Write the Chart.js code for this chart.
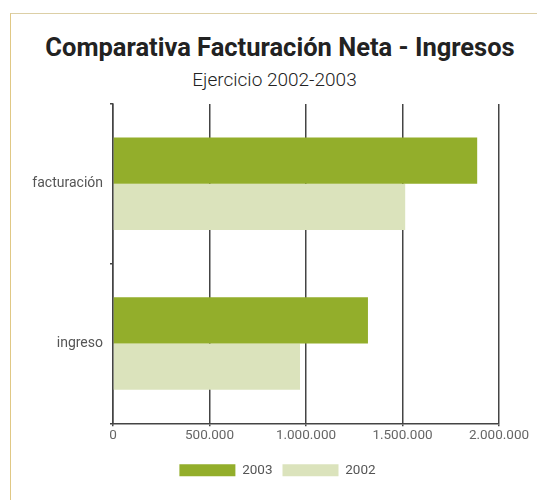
<!DOCTYPE html>
<html>
<head>
<meta charset="utf-8">
<script src="https://cdn.jsdelivr.net/npm/chart.js@4"></script>
<style>
  html, body { margin:0; padding:0; background:#fff; }
  #wrap { position:relative; width:537px; height:500px; overflow:hidden; }
  #frame { position:absolute; left:10px; top:13px; width:540px; height:500px;
           border-top:1.5px solid #dccfa6; border-left:1.5px solid #e0c885; }
  #title { position:absolute; left:20px; width:520px; top:32px; text-align:center;
           font-family:"Roboto", sans-serif; font-weight:bold; font-size:25.5px; color:#222; }
  #subtitle { position:absolute; left:10px; width:529px; top:68px; text-align:center;
           font-family:"Roboto", sans-serif; font-weight:300; font-size:19px; color:#222; }
  #cv { position:absolute; left:0; top:0; }
</style>
</head>
<body>
<div id="wrap">
  <div id="frame"></div>
  <div id="title">Comparativa Facturación Neta - Ingresos</div>
  <div id="subtitle">Ejercicio 2002-2003</div>
  <canvas id="cv" width="537" height="500"></canvas>
</div>
<script>
const categories = ["facturación", "ingreso"];
const seriesNames = ["2003", "2002"];
const values2003 = [1887000, 1321000];
const values2002 = [1514000, 969000];
const xTicks = [0, 500000, 1000000, 1500000, 2000000];

function fmt(v) {
  return String(v).replace(/\B(?=(\d{3})+(?!\d))/g, ".");
}

const legendShift = {
  id: "legendShift",
  afterLayout(chart) {
    if (chart.legend) { chart.legend.left += 28; chart.legend.right += 28; }
  }
};

new Chart(document.getElementById("cv"), {
  type: "bar",
  data: {
    labels: categories,
    datasets: [
      { label: seriesNames[0], data: values2003, backgroundColor: "#93ae2b", borderWidth: 0 },
      { label: seriesNames[1], data: values2002, backgroundColor: "#dbe3bc", borderWidth: 0 }
    ]
  },
  plugins: [legendShift],
  options: {
    indexAxis: "y",
    responsive: false,
    animation: false,
    layout: { padding: { top: 104, right: 38, bottom: 13, left: 0 } },
    datasets: { bar: { barPercentage: 1.0, categoryPercentage: 0.58 } },
    plugins: {
      legend: {
        position: "bottom",
        labels: {
          boxWidth: 56, boxHeight: 12, padding: 10,
          color: "#555",
          font: { family: "Roboto", size: 13.5 }
        }
      },
      tooltip: { enabled: false }
    },
    scales: {
      x: {
        type: "linear",
        min: 0, max: 2000000,
        afterBuildTicks: (s) => { s.ticks = xTicks.map(v => ({ value: v })); },
        afterFit: (s) => { s.height += 9; },
        ticks: {
          callback: (v) => fmt(v),
          color: "#666",
          font: { family: "Roboto", size: 13.5 },
          padding: 1,
          maxRotation: 0
        },
        grid: { color: "#444", lineWidth: 1.5, tickLength: 3, drawOnChartArea: true },
        border: { color: "#444", width: 1.5 }
      },
      y: {
        afterFit: (s) => { s.width = 113; },
        offset: true,
        ticks: {
          color: "#555",
          font: { family: "Roboto", size: 14 },
          padding: 7
        },
        grid: { offset: true, drawOnChartArea: false, color: "#444", lineWidth: 1.5, tickLength: 3 },
        border: { color: "#444", width: 1.5 }
      }
    }
  }
});
</script>
</body>
</html>
